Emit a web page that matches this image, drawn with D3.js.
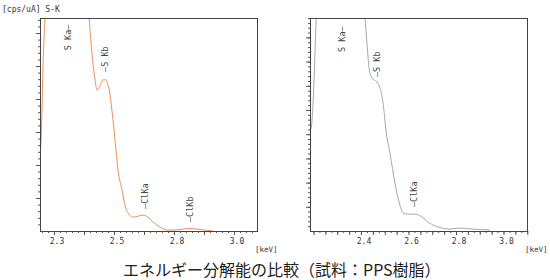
<!DOCTYPE html>
<html>
<head>
<meta charset="utf-8">
<script src="https://cdn.jsdelivr.net/npm/d3@7"></script>
<style>
  body { margin: 0; background: #fff; }
  svg { display: block; }
  .mono { font-family: "DejaVu Sans Mono", monospace; fill: #333; }
</style>
</head>
<body>
<div id="chart"></div>
<script>
// left panel (orange, better resolution), energies in keV
var leftEnergy = [2.250, 2.257, 2.260, 2.263, 2.270, 2.277, 2.320, 2.400, 2.417, 2.427, 2.437, 2.443, 2.453, 2.463,
                  2.473, 2.480, 2.487, 2.493, 2.500, 2.505, 2.520, 2.540, 2.555, 2.570, 2.595, 2.620, 2.645,
                  2.670, 2.695, 2.730, 2.765, 2.803, 2.830, 2.853, 2.887, 2.930];
var leftCounts = [2.10, 2.76, 3.67, 4.88, 6.45, 7.60, 22.0, 8.00, 6.45, 5.33, 4.58, 4.27, 4.39, 4.58,
                  4.58, 4.42, 4.12, 3.67, 3.06, 2.76, 1.85, 1.24, 0.79, 0.55, 0.42, 0.45, 0.48,
                  0.42, 0.27, 0.12, 0.03, 0.03, 0.06, 0.075, 0.045, 0.0];

// right panel (gray)
var rightEnergy = [2.187, 2.192, 2.202, 2.209, 2.212, 2.290, 2.405, 2.417, 2.425, 2.434, 2.446, 2.467, 2.480,
                   2.493, 2.505, 2.522, 2.543, 2.564, 2.577, 2.598, 2.627, 2.657, 2.682, 2.712, 2.741,
                   2.775, 2.817, 2.872, 2.943];
var rightCounts = [4.17, 4.38, 6.16, 8.10, 8.90, 30.0, 9.50, 8.80, 7.77, 6.74, 6.32, 6.16, 5.91,
                   5.29, 4.17, 3.22, 1.98, 1.07, 0.74, 0.70, 0.70, 0.58, 0.37, 0.21, 0.12,
                   0.08, 0.12, 0.08, 0.04];

var leftTicks = [2.3, 2.5, 2.8, 3.0];
var rightTicks = [2.4, 2.6, 2.8, 3.0];

var leftPeakNames = ["S Ka\u2014", "\u2014S Kb", "\u2014ClKa", "\u2014ClKb"];
var leftPeakEnergy = [2.357, 2.480, 2.670, 2.863];
var leftPeakLevel = [5.48, 4.82, 0.67, 0.27];

var rightPeakNames = ["S Ka\u2014", "\u2014S Kb", "\u2014ClKa"];
var rightPeakEnergy = [2.333, 2.480, 2.636];
var rightPeakLevel = [7.40, 6.36, 0.99];

var W = 550, H = 280;
var svg = d3.select("#chart").append("svg").attr("width", W).attr("height", H);

function drawPanel(opt) {
    var x0 = opt.left, x1 = opt.left + 218, yTop = 18, yBot = 231;
    var g = svg.append("g");

    var y = d3.scaleLinear().domain([0, opt.yMax]).range([yBot, yTop]);

    g.append("clipPath").attr("id", opt.id + "-clip")
        .append("rect").attr("x", x0).attr("y", yTop).attr("width", x1 - x0).attr("height", yBot - yTop);

    // x ticks: minor and major, outward
    var pxMinor = d3.range(opt.tickStart - opt.minorPx * 40, x1, opt.minorPx).filter(function(p) { return p > x0 + 0.5; });
    var minorVals = pxMinor.map(opt.x.invert);
    var majorVals = minorVals.filter(function(d, i) {
        var k = Math.round((pxMinor[i] - opt.tickStart) / opt.minorPx);
        return ((k % opt.majorEvery) + opt.majorEvery) % opt.majorEvery === 0;
    });

    g.append("g").attr("transform", "translate(0," + yBot + ")")
        .call(d3.axisBottom(opt.x).tickValues(minorVals).tickSize(2).tickFormat(""))
        .call(function(a) { a.select(".domain").remove(); a.selectAll("line").attr("stroke", "#555"); });
    g.append("g").attr("transform", "translate(0," + yBot + ")")
        .call(d3.axisBottom(opt.x).tickValues(majorVals).tickSize(4).tickFormat(""))
        .call(function(a) { a.select(".domain").remove(); a.selectAll("line").attr("stroke", "#555"); });

    g.selectAll(".xlab").data(opt.ticks).enter().append("text")
        .attr("class", "mono")
        .attr("x", function(d) { return opt.x(d) + 3; })
        .attr("y", 244)
        .attr("text-anchor", "middle")
        .style("font-size", "8px")
        .text(function(d) { return d.toFixed(1); });

    // y ticks
    g.append("g").attr("transform", "translate(" + x0 + ",0)")
        .call(d3.axisLeft(y).tickValues(d3.range(0.2, opt.yMax, 0.2)).tickSize(2).tickFormat(""))
        .call(function(a) { a.select(".domain").remove(); a.selectAll("line").attr("stroke", "#555"); });
    g.append("g").attr("transform", "translate(" + x0 + ",0)")
        .call(d3.axisLeft(y).tickValues(d3.range(1, opt.yMax, 1)).tickSize(4).tickFormat(""))
        .call(function(a) { a.select(".domain").remove(); a.selectAll("line").attr("stroke", "#555"); });

    // spectrum
    var line = d3.line()
        .x(function(d, i) { return opt.x(opt.energy[i]); })
        .y(function(d) { return y(d); })
        .curve(d3.curveMonotoneX);

    g.append("path")
        .datum(opt.counts)
        .attr("clip-path", "url(#" + opt.id + "-clip)")
        .attr("fill", "none")
        .attr("stroke", opt.color)
        .attr("stroke-width", 1)
        .attr("d", line);

    // frame
    g.append("rect").attr("x", x0 + 0.5).attr("y", yTop + 0.5)
        .attr("width", x1 - x0 - 1).attr("height", yBot - yTop)
        .attr("fill", "none").attr("stroke", "#444").attr("stroke-width", 1);

    // peak labels, rotated
    g.selectAll(".peak").data(opt.peakNames).enter().append("text")
        .attr("class", "mono")
        .attr("transform", function(d, i) {
            return "translate(" + opt.x(opt.peakEnergy[i]) + "," + y(opt.peakLevel[i]) + ") rotate(-90)";
        })
        .style("font-size", "8.5px")
        .style("fill", "#444")
        .text(function(d) { return d; });

    g.append("text").attr("class", "mono")
        .attr("x", x1 - 3).attr("y", 252)
        .style("font-size", "7.5px")
        .text("[keV]");
}

var xLeft = d3.scaleLinear().domain(leftTicks).range(leftTicks.map(function(d, i) { return 54 + i * 60; }));
var xRight = d3.scaleLinear().domain([2.4, 3.0]).range([361, 503.5]);

drawPanel({ id: "l", left: 40, x: xLeft, ticks: leftTicks, tickStart: 54, minorPx: 6, majorEvery: 5,
            yMax: 213 / 33, energy: leftEnergy, counts: leftCounts, color: "#ee9058",
            peakNames: leftPeakNames, peakEnergy: leftPeakEnergy, peakLevel: leftPeakLevel });
drawPanel({ id: "r", left: 310, x: xRight, ticks: rightTicks, tickStart: 361, minorPx: 47.5 / 8, majorEvery: 2,
            yMax: 213 / 24.2, energy: rightEnergy, counts: rightCounts, color: "#a9a9a9",
            peakNames: rightPeakNames, peakEnergy: rightPeakEnergy, peakLevel: rightPeakLevel });

svg.append("text").attr("class", "mono")
    .attr("x", 2).attr("y", 12)
    .style("font-size", "8px")
    .text("[cps/uA] S-K");

svg.append("text")
    .attr("x", 123).attr("y", 276)
    .style("font-family", "'Noto Sans CJK JP', sans-serif")
    .style("font-size", "16px")
    .style("fill", "#222")
    .text("エネルギー分解能の比較（試料：PPS樹脂）");
</script>
</body>
</html>
